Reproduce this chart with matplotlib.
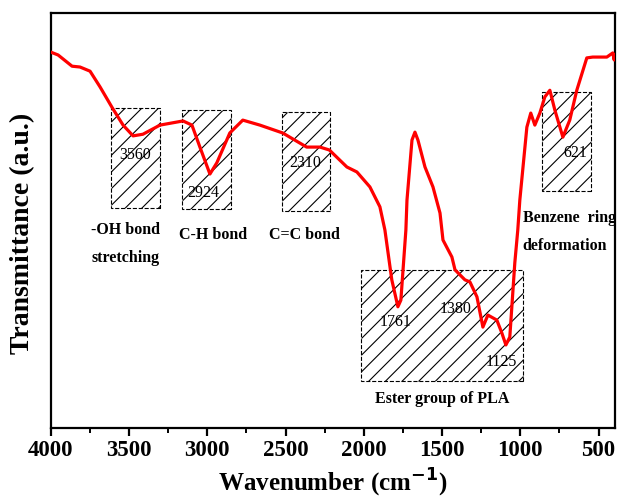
import matplotlib
matplotlib.use("Agg")
import matplotlib.pyplot as plt
from matplotlib.patches import Rectangle
from matplotlib.ticker import MultipleLocator

plt.rcParams['font.family'] = ['Liberation Serif', 'DejaVu Serif']
plt.rcParams['hatch.linewidth'] = 0.8

# FTIR spectrum (wavenumber, transmittance a.u.)
wavenumber = [4000, 3953, 3864, 3813, 3749, 3685, 3609, 3538, 3474, 3411,
              3302, 3155, 3098, 3047, 2983, 2939, 2856, 2773, 2664, 2518,
              2365, 2280, 2220, 2108, 2044, 1961, 1897, 1865, 1821, 1782,
              1763, 1731, 1724, 1692, 1673, 1654, 1609, 1558, 1513, 1494,
              1437, 1417, 1354, 1322, 1277, 1239, 1207, 1150, 1118, 1092,
              1067, 1035, 1016, 1003, 958, 933, 907, 875, 843, 811,
              779, 728, 684, 639, 575, 537, 447, 409, 400, 396]
transmittance = [90.6, 89.9, 87.2, 87.0, 86.0, 82.2, 77.3, 73.0, 70.4, 70.8,
                 73.0, 74.0, 73.0, 67.7, 61.2, 63.9, 71.1, 74.2, 73.0, 71.1,
                 67.7, 67.7, 67.0, 62.9, 61.7, 58.1, 53.3, 47.7, 35.7, 29.2,
                 30.8, 47.7, 54.9, 69.4, 71.3, 69.4, 62.9, 58.1, 51.8, 45.3,
                 41.2, 38.1, 35.7, 35.2, 31.6, 24.3, 27.2, 26.0, 22.9, 20.0,
                 21.9, 39.8, 47.7, 54.9, 72.5, 75.9, 73.0, 75.9, 79.8, 81.4,
                 76.6, 70.1, 74.2, 81.4, 89.2, 89.4, 89.4, 90.4, 88.7, 90.0]

# hatched regions: (wn_left, wn_right, y_bottom, y_top)
regions = [(3615, 3302, 53.0, 77.1),
           (3162, 2850, 52.8, 76.6),
           (2523, 2216, 52.3, 76.1),
           (862, 549, 57.1, 81.0),
           (2018, 983, 11.3, 38.1)]

peak_labels = ["3560", "2924", "2310", "621", "1761", "1380", "1125"]
peak_pos = [(3461, 65.8), (3027, 56.6), (2376, 63.9), (650, 66.3),
            (1795, 25.5), (1412, 28.7), (1118, 15.9)]

group_labels = ["-OH bond", "stretching", "C-H bond", "C=C bond",
                "Ester group of PLA"]
group_pos = [(3525, 47.7), (3525, 41.0), (2963, 46.5), (2376, 46.5),
             (1500, 7.0)]

fig = plt.figure(figsize=(6.19, 5.04), dpi=100)
ax = fig.add_axes([0.082, 0.151, 0.9115, 0.823])

for x0, x1, y0, y1 in regions:
    ax.add_patch(Rectangle((x1, y0), x0 - x1, y1 - y0, fill=False,
                           hatch='//', edgecolor='black', linewidth=0.8,
                           linestyle='--', zorder=1))

ax.plot(wavenumber, transmittance, color='red', linewidth=2.3,
        solid_joinstyle='round', zorder=3)

for txt, (x, y) in zip(peak_labels, peak_pos):
    ax.text(x, y, txt, ha='center', va='center', fontsize=11.5, zorder=4)

for txt, (x, y) in zip(group_labels, group_pos):
    ax.text(x, y, txt, ha='center', va='center', fontsize=11.5,
            fontweight='bold', zorder=4)

ax.text(984, 50.6, "Benzene  ring", ha='left', va='center', fontsize=11.5,
        fontweight='bold')
ax.text(984, 43.9, "deformation", ha='left', va='center', fontsize=11.5,
        fontweight='bold')

ax.set_xlim(4000, 395)
ax.set_ylim(0, 100)
ax.xaxis.set_major_locator(MultipleLocator(500))
ax.xaxis.set_minor_locator(MultipleLocator(250))
ax.set_yticks([])
ax.tick_params(axis='x', which='major', direction='out', length=6, width=1.6,
               labelsize=16.5, pad=3)
ax.tick_params(axis='x', which='minor', direction='out', length=3.5, width=1.4)
for lab in ax.get_xticklabels():
    lab.set_fontweight('bold')
for sp in ax.spines.values():
    sp.set_linewidth(1.6)

ax.set_xlabel(r"Wavenumber (cm$^{\mathbf{-1}}$)", fontsize=18,
              fontweight='bold', labelpad=4)
ax.set_ylabel("Transmittance (a.u.)", fontsize=20, fontweight='bold')
ax.yaxis.set_label_coords(-0.028, 0.47)

fig.savefig("out.png", dpi=100)
